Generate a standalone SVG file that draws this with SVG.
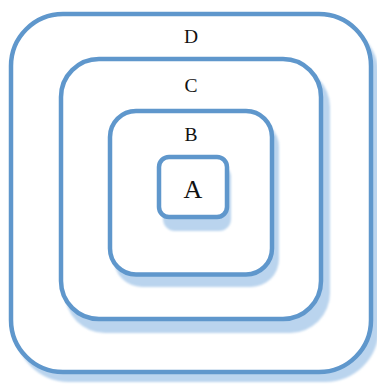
<svg xmlns="http://www.w3.org/2000/svg" width="377" height="385" viewBox="0 0 377 385">
<defs>
<filter id="soft" x="-10%" y="-10%" width="120%" height="120%"><feGaussianBlur stdDeviation="0.8"/></filter>
</defs>
<style>
.sh{fill:#bad4ee;filter:url(#soft)}
.bx{fill:#fff;stroke:#5f97cc;stroke-width:4.5}
.t{font-family:"Liberation Serif","Times New Roman",serif;fill:#111;text-anchor:middle}
</style>
<rect width="377" height="385" fill="#fff"/>
<g id="D">
<rect class="sh" x="15" y="22" width="364" height="360" rx="54"/>
<rect class="bx" x="11" y="14" width="360" height="358" rx="52"/>
<text class="t" x="191" y="43" font-size="19.5">D</text>
</g>
<g id="C">
<rect class="sh" x="65" y="67" width="265" height="266" rx="40"/>
<rect class="bx" x="61" y="59" width="260" height="260" rx="38"/>
<text class="t" x="191" y="92" font-size="19.5">C</text>
</g>
<g id="B">
<rect class="sh" x="114" y="119" width="165" height="168" rx="28"/>
<rect class="bx" x="110" y="111" width="162" height="163.5" rx="26"/>
<text class="t" x="191" y="141" font-size="19.5">B</text>
</g>
<g id="A">
<rect class="sh" x="163" y="165" width="68" height="66" rx="12"/>
<rect class="bx" x="159" y="157" width="68" height="60" rx="10"/>
<text class="t" x="193" y="198" font-size="26">A</text>
</g>
<g id="connectors"/>
</svg>
